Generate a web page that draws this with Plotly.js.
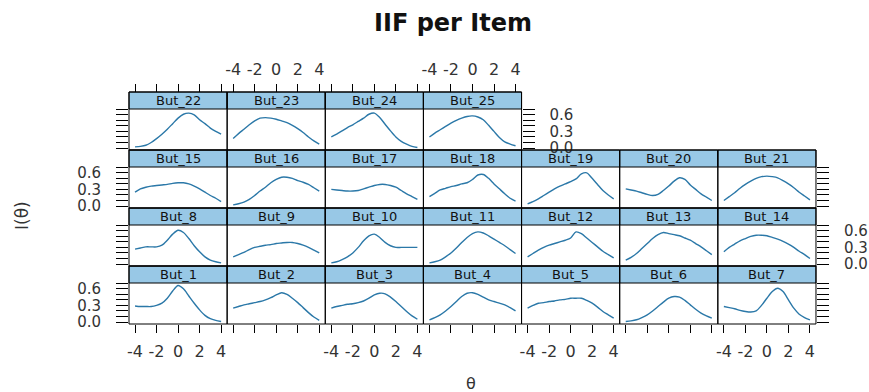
<!DOCTYPE html>
<html><head><meta charset="utf-8">
<script src="https://cdn.plot.ly/plotly-3.0.1.min.js"></script>
<style>html,body{margin:0;padding:0;background:#fff}</style>
</head><body>
<div id="chart" style="width:869px;height:392px"></div>
<script>
// ---- data ----
const theta = [-4,-3.5,-3,-2.5,-2,-1.5,-1,-0.5,0,0.5,1,1.5,2,2.5,3,3.5,4];
const itemNames = ['But_1','But_2','But_3','But_4','But_5','But_6','But_7','But_8','But_9','But_10','But_11','But_12','But_13','But_14','But_15','But_16','But_17','But_18','But_19','But_20','But_21','But_22','But_23','But_24','But_25'];
const but1  = [.29,.28,.28,.28,.30,.34,.43,.56,.66,.60,.47,.34,.22,.12,.06,.03,.01];
const but2  = [.25,.28,.31,.33,.35,.37,.40,.44,.49,.53,.50,.43,.35,.26,.17,.09,.03];
const but3  = [.25,.28,.30,.32,.33,.35,.38,.43,.49,.52,.51,.45,.37,.28,.19,.11,.05];
const but4  = [.04,.08,.13,.20,.28,.37,.46,.52,.53,.50,.45,.40,.37,.34,.31,.26,.20];
const but5  = [.25,.30,.34,.35,.37,.38,.40,.41,.43,.43,.43,.39,.34,.27,.19,.13,.07];
const but6  = [.01,.02,.04,.08,.13,.20,.28,.36,.43,.46,.45,.39,.31,.23,.16,.11,.07];
const but7  = [.28,.26,.24,.21,.19,.18,.20,.30,.43,.55,.61,.55,.40,.25,.14,.08,.04];
const but8  = [.27,.29,.31,.31,.31,.34,.43,.54,.61,.57,.46,.33,.22,.13,.07,.04,.02];
const but9  = [.13,.17,.21,.26,.30,.32,.34,.35,.37,.38,.39,.39,.37,.34,.30,.25,.20];
const but10 = [.02,.04,.08,.13,.20,.30,.42,.51,.54,.48,.39,.33,.30,.30,.30,.30,.30];
const but11 = [.02,.04,.07,.13,.20,.29,.39,.48,.55,.58,.56,.51,.45,.39,.33,.26,.19];
const but12 = [.13,.19,.25,.30,.34,.37,.40,.43,.47,.58,.55,.47,.39,.31,.23,.17,.11];
const but13 = [.07,.12,.19,.28,.37,.46,.53,.57,.55,.53,.51,.47,.43,.37,.31,.24,.17];
const but14 = [.22,.30,.36,.42,.46,.50,.52,.52,.51,.48,.45,.41,.36,.30,.23,.17,.10];
const but15 = [.25,.31,.34,.36,.37,.38,.39,.41,.42,.42,.40,.36,.31,.25,.19,.14,.08];
const but16 = [.02,.04,.07,.12,.19,.27,.34,.42,.48,.52,.52,.50,.46,.43,.39,.33,.27];
const but17 = [.30,.29,.28,.27,.27,.28,.31,.34,.37,.39,.39,.37,.34,.28,.22,.17,.12];
const but18 = [.17,.23,.29,.32,.35,.37,.40,.42,.48,.56,.57,.50,.40,.31,.22,.14,.09];
const but19 = [.04,.08,.13,.19,.25,.31,.36,.40,.44,.49,.58,.60,.50,.39,.28,.20,.13];
const but20 = [.31,.29,.27,.24,.21,.19,.21,.28,.36,.45,.51,.48,.38,.30,.22,.16,.10];
const but21 = [.10,.17,.24,.32,.39,.45,.50,.53,.54,.53,.51,.46,.40,.33,.25,.18,.11];
const but22 = [.02,.03,.05,.10,.17,.25,.34,.44,.54,.61,.63,.60,.51,.44,.36,.30,.25];
const but23 = [.17,.26,.34,.42,.49,.54,.55,.54,.52,.49,.46,.41,.35,.28,.20,.13,.07];
const but24 = [.20,.25,.31,.37,.42,.48,.54,.61,.63,.55,.43,.31,.20,.12,.07,.03,.01];
const but25 = [.20,.27,.33,.39,.45,.50,.54,.57,.58,.56,.51,.41,.30,.19,.11,.07,.04];
const iif = [but1,but2,but3,but4,but5,but6,but7,but8,but9,but10,but11,but12,but13,but14,but15,but16,but17,but18,but19,but20,but21,but22,but23,but24,but25];
const xTickVals = [-4,-2,0,2,4];
const xTickText = ['-4','-2','0','2','4'];
const yTickVals = [0,0.1,0.2,0.3,0.4,0.5,0.6,0.7];
const yTickText = ['0.0','','','0.3','','','0.6',''];

// ---- layout geometry ----
const W = 869, H = 392;
const FONT = 'DejaVu Sans';
const colEdge = c => 129 + 98.14 * c;
const rowTop = r => 92 + 58 * r;
const STRIP = 17, CELL = 58;
const px = v => v / W, py = v => 1 - v / H;

const traces = [], shapes = [], annotations = [];
const layout = {
  width: W, height: H,
  margin: {l: 0, r: 0, t: 0, b: 0, pad: 0},
  paper_bgcolor: '#ffffff', plot_bgcolor: 'rgba(0,0,0,0)',
  showlegend: false, hovermode: false,
  font: {family: FONT, color: '#333'},
  title: {text: 'IIF per Item', x: 453 / W, xanchor: 'center', xref: 'paper',
          y: 1 - 23 / H, yanchor: 'middle', yref: 'container',
          font: {family: FONT, size: 24, weight: 'bold', color: '#111'}}
};

itemNames.forEach((name, k) => {
  const i = k + 1;
  let r, c;
  if (i <= 21) { r = 3 - Math.floor((i - 1) / 7); c = (i - 1) % 7; }
  else { r = 0; c = i - 22; }
  const sfx = i === 1 ? '' : String(i);
  const x0 = colEdge(c), x1 = colEdge(c + 1);
  const top = rowTop(r), pTop = top + STRIP, pBot = top + CELL;

  const xa = {
    domain: [px(x0), px(x1)], range: [-4.56, 4.56], anchor: 'y' + sfx,
    showgrid: false, zeroline: false, showline: false, fixedrange: true,
    tickmode: 'array', tickvals: xTickVals, ticktext: xTickText,
    ticks: '', showticklabels: false, ticklen: 8, tickwidth: 1, tickcolor: '#000',
    tickfont: {family: FONT, size: 16, color: '#333'}
  };
  if (r === 3) { xa.ticks = 'outside'; xa.showticklabels = (c % 2 === 0); xa.ticklabelstandoff = 5; }
  if (r === 0) {
    xa.anchor = 'free'; xa.position = py(top); xa.side = 'top';
    xa.ticks = 'outside'; xa.showticklabels = (c % 2 === 1); xa.ticklabelstandoff = 3;
  }
  const ya = {
    domain: [py(pBot), py(pTop)], range: [-0.036, 0.705], anchor: 'x' + sfx,
    showgrid: false, zeroline: false, showline: false, fixedrange: true,
    tickmode: 'array', tickvals: yTickVals, ticktext: yTickText,
    ticks: '', showticklabels: false, ticklen: 12, tickwidth: 1, tickcolor: '#000',
    tickfont: {family: FONT, size: 15, color: '#333'}
  };
  const lastCol = (r === 0) ? 3 : 6;
  if (c === 0) { ya.side = 'left'; ya.ticks = 'outside'; ya.showticklabels = (r === 1 || r === 3); ya.ticklabelstandoff = 12; }
  else if (c === lastCol) { ya.side = 'right'; ya.ticks = 'outside'; ya.showticklabels = (r === 0 || r === 2); ya.ticklabelstandoff = 12; }
  layout['xaxis' + sfx] = xa;
  layout['yaxis' + sfx] = ya;

  traces.push({
    type: 'scatter', mode: 'lines', x: theta, y: iif[k],
    xaxis: 'x' + sfx, yaxis: 'y' + sfx,
    line: {color: '#2b78a8', width: 1.4, shape: 'spline', smoothing: 0.8},
    hoverinfo: 'skip'
  });

  shapes.push({type: 'rect', xref: 'paper', yref: 'paper', layer: 'below',
    x0: px(x0), x1: px(x1), y0: py(pTop), y1: py(top),
    fillcolor: '#98c8e6', line: {color: '#000', width: 1}});
  shapes.push({type: 'rect', xref: 'paper', yref: 'paper', layer: 'above',
    x0: px(x0), x1: px(x1), y0: py(pBot), y1: py(top),
    fillcolor: 'rgba(0,0,0,0)', line: {color: '#000', width: 1}});
  annotations.push({xref: 'paper', yref: 'paper', x: px((x0 + x1) / 2), y: py(top + STRIP / 2),
    xanchor: 'center', yanchor: 'middle', showarrow: false, text: name,
    font: {family: FONT, size: 13, color: '#111'}});
});

annotations.push({xref: 'paper', yref: 'paper', x: px(471), y: py(383), xanchor: 'center', yanchor: 'middle',
  showarrow: false, text: 'θ', font: {family: FONT, size: 16, color: '#333'}});
annotations.push({xref: 'paper', yref: 'paper', x: px(22), y: py(216), xanchor: 'center', yanchor: 'middle',
  showarrow: false, text: 'I(θ)', textangle: -90, font: {family: FONT, size: 17, color: '#333'}});

layout.shapes = shapes;
layout.annotations = annotations;
Plotly.newPlot('chart', traces, layout, {staticPlot: true, displayModeBar: false});
</script>
</body></html>
